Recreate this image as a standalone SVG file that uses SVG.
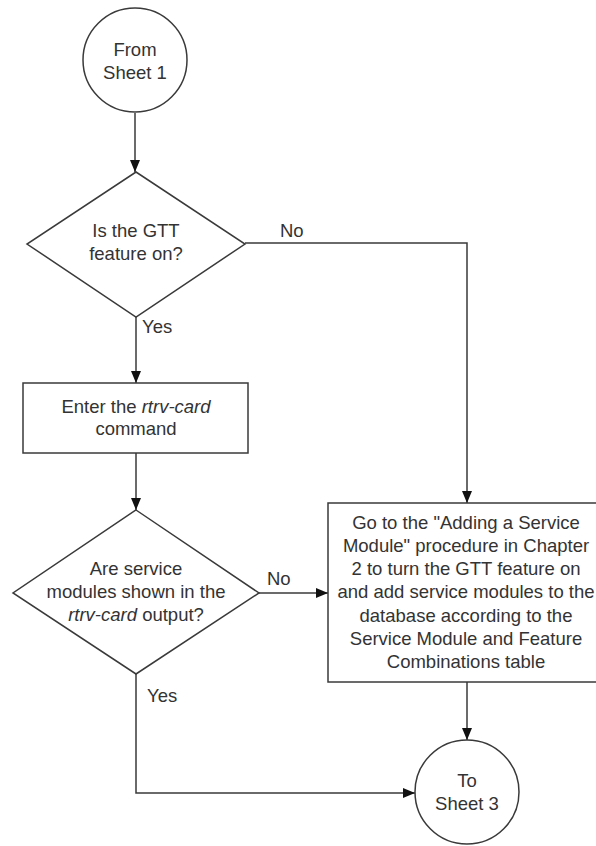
<svg xmlns="http://www.w3.org/2000/svg" width="596" height="846" viewBox="0 0 596 846">
<style>
.s{fill:#fff;stroke:#3a3a3a;stroke-width:1.5}
.c{fill:none;stroke:#3a3a3a;stroke-width:1.5}
text{font-family:"Liberation Sans",Arial,sans-serif;font-size:18.5px;fill:#333}
.m{text-anchor:middle}
.i{font-style:italic}
</style>
<defs>
<marker id="a" viewBox="0 0 12 10" refX="12" refY="5" markerWidth="12" markerHeight="10" markerUnits="userSpaceOnUse" orient="auto">
<path d="M0,0 L12,5 L0,10 Z" fill="#111"/>
</marker>
</defs>
<rect width="596" height="846" fill="#fff"/>
<g id="connectors">
<path class="c" d="M135,113 V172" marker-end="url(#a)"/>
<path class="c" d="M136,317 V383" marker-end="url(#a)"/>
<path class="c" d="M136,453 V510" marker-end="url(#a)"/>
<path class="c" d="M245,243 H467 V503" marker-end="url(#a)"/>
<path class="c" d="M259,593 H328" marker-end="url(#a)"/>
<path class="c" d="M467,682 V740" marker-end="url(#a)"/>
<path class="c" d="M136,674 V793 H415" marker-end="url(#a)"/>
<text x="280" y="237">No</text>
<text x="142" y="333">Yes</text>
<text x="267" y="585">No</text>
<text x="147" y="702">Yes</text>
</g>
<g id="start">
<circle class="s" cx="135" cy="60" r="52"/>
<text class="m" x="135" y="56">From</text>
<text class="m" x="135" y="79">Sheet 1</text>
</g>
<g id="gtt-decision">
<path class="s" d="M136,172 L245,244 L136,317 L27,244 Z"/>
<text class="m" x="136" y="237">Is the GTT</text>
<text class="m" x="136" y="260">feature on?</text>
</g>
<g id="rtrv-card">
<rect class="s" x="23" y="383" width="225" height="70"/>
<text class="m" x="136" y="413">Enter the <tspan class="i">rtrv-card</tspan></text>
<text class="m" x="136" y="435">command</text>
</g>
<g id="modules-decision">
<path class="s" d="M136,510 L259,593 L136,674 L13,593 Z"/>
<text class="m" x="136" y="575">Are service</text>
<text class="m" x="136" y="598">modules shown in the</text>
<text class="m" x="136" y="621"><tspan class="i">rtrv-card</tspan> output?</text>
</g>
<g id="add-service-module">
<rect class="s" x="328" y="503" width="278" height="179"/>
<text class="m" x="466" y="529">Go to the "Adding a Service</text>
<text class="m" x="466" y="552">Module" procedure in Chapter</text>
<text class="m" x="466" y="575">2 to turn the GTT feature on</text>
<text class="m" x="466" y="598">and add service modules to the</text>
<text class="m" x="466" y="622">database according to the</text>
<text class="m" x="466" y="645">Service Module and Feature</text>
<text class="m" x="466" y="668">Combinations table</text>
</g>
<g id="end">
<circle class="s" cx="467" cy="792" r="52"/>
<text class="m" x="467" y="787">To</text>
<text class="m" x="467" y="810">Sheet 3</text>
</g>
</svg>
